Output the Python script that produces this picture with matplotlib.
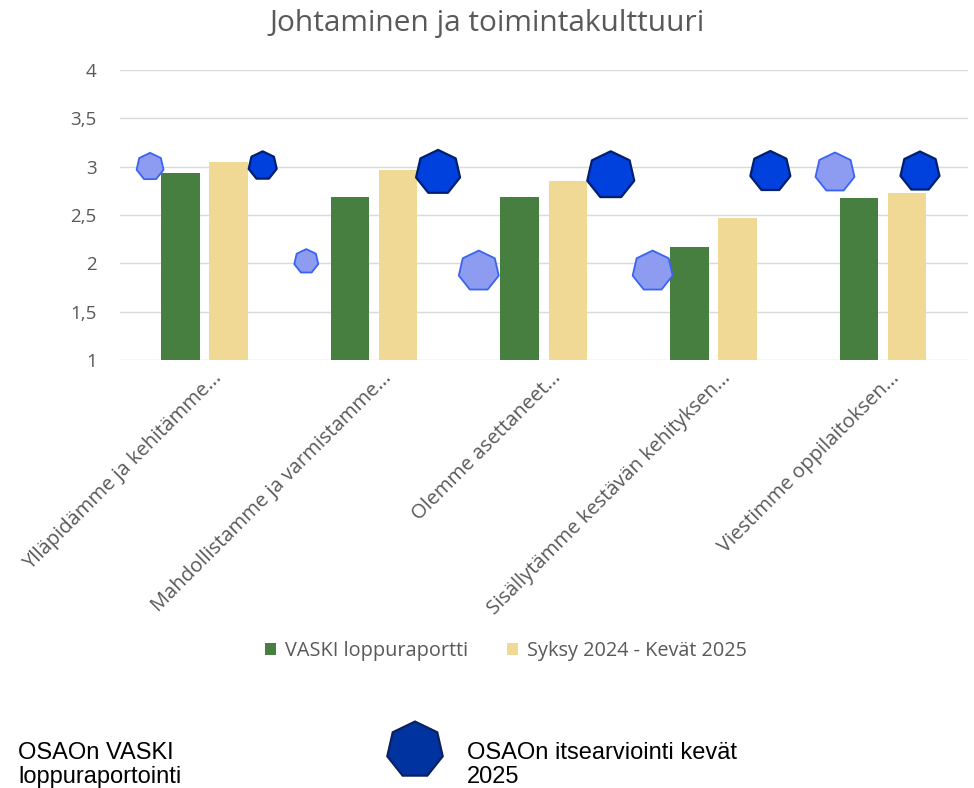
import matplotlib
matplotlib.use("Agg")
import matplotlib.pyplot as plt
import numpy as np
from matplotlib.patches import Patch, RegularPolygon
from matplotlib.transforms import ScaledTranslation

# ---------------- data ----------------
title = "Johtaminen ja toimintakulttuuri"
categories = [
    "Ylläpidämme ja kehitämme...",
    "Mahdollistamme ja varmistamme...",
    "Olemme asettaneet...",
    "Sisällytämme kestävän kehityksen...",
    "Viestimme oppilaitoksen...",
]
series_names = ["VASKI loppuraportti", "Syksy 2024 - Kevät 2025"]
vaski = [2.93, 2.69, 2.69, 2.17, 2.68]
syksy = [3.05, 2.97, 2.85, 2.47, 2.73]
marker_names = ["OSAOn VASKI\nloppuraportointi", "OSAOn itsearviointi kevät\n2025"]
osao_vaski = [3.00, 2.02, 1.92, 1.92, 2.94]
osao_itse = [3.01, 2.94, 2.91, 2.95, 2.95]
yticks = [1, 1.5, 2, 2.5, 3, 3.5, 4]
ytick_labels = ["1", "1,5", "2", "2,5", "3", "3,5", "4"]

# ---------------- layout / style ----------------
light_dx = [-0.321, -0.400, -0.383, -0.358, -0.283]
light_px = [27, 24, 40, 40, 39]
dark_dx = [0.343, 0.377, 0.395, 0.336, 0.218]
dark_px = [28, 44, 47, 40, 39]

GREEN = "#467f3f"
YELLOW = "#efd994"
TXT = "#595959"
GRID = "#d9d9d9"
FONT = "Open Sans"

W, H = 974, 788
fig = plt.figure(figsize=(W / 100, H / 100), dpi=100)
ax = fig.add_axes([119.7 / W, 1 - 360 / H, (967.8 - 119.7) / W, (360 - 70) / H])

x = np.arange(len(categories))
bw = 0.227
off = 0.142
ax.bar(x - off, vaski, bw, bottom=0, color=GREEN, zorder=2)
ax.bar(x + off, syksy, bw, bottom=0, color=YELLOW, zorder=2)


def px_to_s(px):
    diam_px = px / 0.975
    pts = diam_px * 72 / 100
    return pts ** 2


ax.scatter(x + np.array(light_dx), osao_vaski, s=[px_to_s(p) for p in light_px],
           marker=(7, 0, 0), facecolor="#8d9bf0", edgecolor="#3b63f2", linewidth=1.3, zorder=4)
ax.scatter(x + np.array(dark_dx), osao_itse, s=[px_to_s(p) for p in dark_px],
           marker=(7, 0, 0), facecolor="#0040dc", edgecolor="#001f6e", linewidth=1.6, zorder=4)

ax.set_xlim(-0.5, len(categories) - 0.5)
ax.set_ylim(1, 4)
ax.set_yticks(yticks)
ax.set_yticklabels(ytick_labels, fontsize=13.5, color=TXT, family=FONT)
ax.tick_params(axis="y", length=0, pad=16.5)
ax.set_xticks([])
ax.grid(axis="y", color=GRID, linewidth=1, zorder=0)
ax.set_axisbelow(True)
for sp in ax.spines.values():
    sp.set_visible(False)

trans = ax.get_xaxis_transform() + ScaledTranslation(14 / 100, -15 / 100, fig.dpi_scale_trans)
for xi, lab in zip(x, categories):
    ax.text(xi, 0, lab, transform=trans, rotation=45, ha="right", va="center",
            rotation_mode="anchor", fontsize=14.5, color=TXT, family=FONT)

fig.text(0.5, 1 - 23 / H, title, ha="center", va="center", fontsize=21.5, color=TXT, family=FONT)

handles = [Patch(facecolor=GREEN, edgecolor="none"), Patch(facecolor=YELLOW, edgecolor="none")]
fig.legend(handles, series_names, loc="center", bbox_to_anchor=(506 / W, 1 - 651 / H),
           ncol=2, frameon=False, handlelength=0.55, handleheight=0.55, handletextpad=0.45,
           columnspacing=2.0, prop={"family": FONT, "size": 14.3}, labelcolor=TXT)

# bottom shape legend
fig.text(18 / W, 1 - 783 / H, marker_names[0], ha="left", va="baseline", fontsize=17,
         family="Liberation Sans", color="black", linespacing=1.12)
fig.text(467 / W, 1 - 783 / H, marker_names[1], ha="left", va="baseline", fontsize=17,
         family="Liberation Sans", color="black", linespacing=1.12)
hept = RegularPolygon((415 / 100, (H - 750) / 100), numVertices=7, radius=0.285,
                      orientation=0, facecolor="#0033a0", edgecolor="#0d1f5c", linewidth=1.5,
                      transform=fig.dpi_scale_trans)
fig.add_artist(hept)

fig.savefig("out.png", dpi=100)
